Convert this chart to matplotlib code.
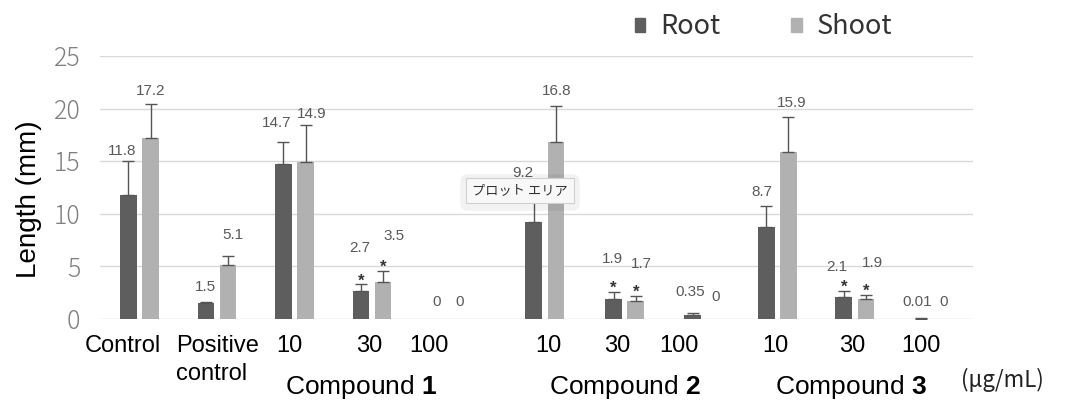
import matplotlib
matplotlib.use("Agg")
import matplotlib.pyplot as plt
from matplotlib.patches import Patch
import numpy as np

# ---- data ----
categories = ["Control", "Positive\ncontrol", "10", "30", "100", "10", "30", "100", "10", "30", "100"]
groups = ["Compound $\\mathbf{1}$", "Compound $\\mathbf{2}$", "Compound $\\mathbf{3}$"]
root = [11.8, 1.5, 14.7, 2.7, 0, 9.2, 1.9, 0.35, 8.7, 2.1, 0.01]
shoot = [17.2, 5.1, 14.9, 3.5, 0, 16.8, 1.7, 0, 15.9, 1.9, 0]
root_err = [3.25, 0.15, 2.15, 0.6, 0, 2.0, 0.7, 0.2, 2.07, 0.6, 0.05]
shoot_err = [3.27, 0.9, 3.5, 1.1, 0, 3.45, 0.5, 0, 3.3, 0.4, 0]
significant = [False, False, False, True, False, False, True, False, False, True, False]
unit_label = "(\u03bcg/mL)"

# ---- layout ----
xpos = np.array([0, 1, 2, 3, 4, 5.23, 6.26, 7.28, 8.23, 9.23, 10.23])
unit = 77.5  # px per category unit
root_lab_dx = np.array([-17, -11.3, -17.8, -12, -12.8, -21.8, -12, -14, -15.5, -17.6, -14.7]) / unit
shoot_lab_dx = np.array([11.2, 16, 17.5, 22, 9.8, 11.9, 17, 12, 14.5, 18, 11.7]) / unit
root_lab_y = [15.97, 3.04, 18.6, 6.75, 1.64, 13.85, 5.7, 2.6, 12.1, 4.91, 1.64]
shoot_lab_y = [21.7, 7.98, 19.49, 7.89, 1.64, 21.7, 5.23, 2.12, 20.5, 5.29, 1.64]
cat_lab_x = [-0.213, 0.471, 1.94, 2.97, 3.74, 5.27, 6.16, 6.96, 8.2, 9.19, 10.08]
grp_lab_x = [2.865, 6.265, 9.18]

plt.rcParams['mathtext.fontset'] = 'custom'
plt.rcParams['mathtext.rm'] = 'Liberation Sans'
plt.rcParams['mathtext.bf'] = 'Liberation Sans:bold'

W, H = 1065, 401
fig = plt.figure(figsize=(W / 100, H / 100), dpi=100)
ax = fig.add_axes([100 / W, 1 - 319 / H, 873 / W, 263 / H])
AXH = 263.0

c_root = "#5e5e5e"
c_shoot = "#b1b1b1"
bw = 16.7 / unit
off = 11.1 / unit

ax.bar(xpos - off, root, bw, color=c_root, zorder=3)
ax.bar(xpos + off, shoot, bw, color=c_shoot, zorder=3)

r = np.array(root); s = np.array(shoot)
re = np.array(root_err); se = np.array(shoot_err)
mr = re > 0
ms = se > 0
ax.errorbar(xpos[mr] - off, r[mr], yerr=[np.zeros(mr.sum()), re[mr]], fmt='none',
            ecolor="#555555", elinewidth=1, capsize=4, capthick=1, zorder=4)
ax.errorbar(xpos[ms] + off, s[ms], yerr=[np.zeros(ms.sum()), se[ms]], fmt='none',
            ecolor="#555555", elinewidth=1, capsize=4, capthick=1, zorder=4)

lab_kw = dict(ha='center', va='center', fontsize=11, color="#595959",
              family='Liberation Sans', zorder=5)
for i in range(len(xpos)):
    ax.text(xpos[i] + root_lab_dx[i], root_lab_y[i], f"{root[i]:g}", **lab_kw)
    ax.text(xpos[i] + shoot_lab_dx[i], shoot_lab_y[i], f"{shoot[i]:g}", **lab_kw)
    if significant[i]:
        for xv, top in ((xpos[i] - off, root[i] + root_err[i]), (xpos[i] + off, shoot[i] + shoot_err[i])):
            ax.annotate("*", (xv, top), xytext=(0, -3), textcoords='offset points',
                        ha='center', va='bottom', fontsize=12, fontweight='bold',
                        color="#333333", family='Liberation Sans', zorder=5)

ax.set_xlim(-0.51, 10.755)
ax.set_ylim(0, 25)
ax.set_yticks([0, 5, 10, 15, 20, 25])
ax.yaxis.grid(True, color="#d9d9d9", lw=1, zorder=0)
ax.set_axisbelow(True)
for sp in ax.spines.values():
    sp.set_visible(False)
ax.set_xticks([])
ax.tick_params(axis='y', length=0, pad=14, labelsize=18, labelcolor="#808080")
for t in ax.get_yticklabels():
    t.set_family('Noto Sans CJK JP')
    t.set_fontweight('light')

# category labels (baseline rows)
trans = ax.get_xaxis_transform()
row1 = -(351.5 - 319) / AXH
line_gap = 29 / AXH
for i, c in enumerate(categories):
    lines = c.split("\n")
    ha = 'left' if len(lines) > 1 else 'center'
    for j, ln in enumerate(lines):
        ax.text(cat_lab_x[i], row1 - j * line_gap, ln, transform=trans, ha=ha,
                va='baseline', fontsize=17, family='Liberation Sans', color='black')
for g, gx in zip(groups, grp_lab_x):
    ax.text(gx, -(394 - 319) / AXH, g, transform=trans, ha='center', va='baseline',
            fontsize=19, family='Liberation Sans', color='black')

fig.text(1002 / W, 1 - 380 / H, unit_label, ha='center', va='center', fontsize=16,
         color='#222222', family=['Noto Sans CJK JP', 'DejaVu Sans'])

ylab = fig.text(29 / W, 1 - 199 / H, "Length (mm)", rotation=90, ha='center', va='center',
                fontsize=20, family='Liberation Sans', color='black')
# size the label so its rendered length matches the reference (~158 px)
renderer = fig.canvas.get_renderer()
h = ylab.get_window_extent(renderer).height
if h > 0:
    ylab.set_fontsize(20 * 158.0 / h)

handles = [Patch(color=c_root, label="Root"), Patch(color=c_shoot, label="Shoot")]
fig.legend(handles=handles, loc='center left', bbox_to_anchor=(635 / W, 1 - 27 / H),
           ncol=2, frameon=False, borderaxespad=0, borderpad=0, handlelength=0.38,
           handleheight=0.45, handletextpad=0.57, columnspacing=2.6,
           prop={'family': 'Noto Sans CJK JP', 'size': 19.5}, labelcolor='#333333')

# tooltip overlay (soft shadow + box)
fig.text(520 / W, 1 - 192.5 / H, "プロット エリア", ha='center', va='center', fontsize=9.5,
         color=(0, 0, 0, 0), family=['Noto Sans CJK JP', 'DejaVu Sans'], zorder=9,
         bbox=dict(boxstyle='round,pad=0.9,rounding_size=0.6', fc=(0, 0, 0, 0.05), ec='none'))
fig.text(520 / W, 1 - 190.5 / H, "プロット エリア", ha='center', va='center', fontsize=9.5,
         color='#333333', family=['Noto Sans CJK JP', 'DejaVu Sans'], zorder=10,
         bbox=dict(boxstyle='square,pad=0.45', fc='#f8f8f8', ec='#d0d0d0', lw=0.8))

fig.savefig("out.png", dpi=100)
